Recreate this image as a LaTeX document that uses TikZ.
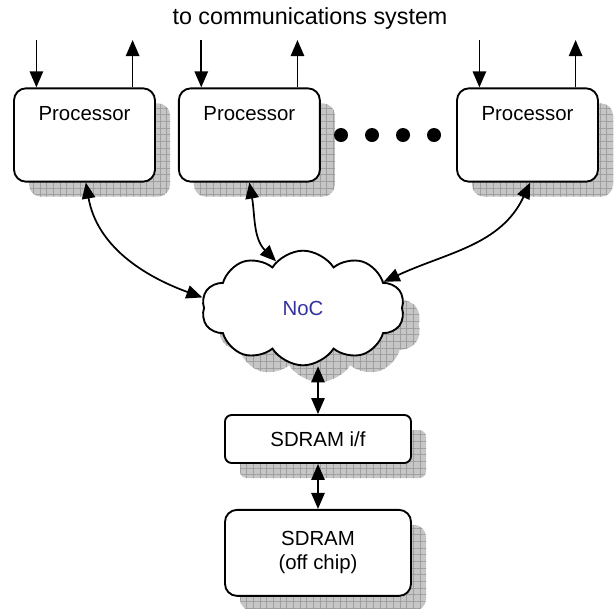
\documentclass[tikz,border=0pt]{standalone}
\usepackage{fontspec}
\setmainfont{Liberation Sans}
\usetikzlibrary{positioning,arrows.meta,shapes.symbols,shadows,patterns.meta}
\definecolor{nocblue}{RGB}{51,51,160}

\begin{document}
\begin{tikzpicture}[
  x=0.75pt, y=-0.75pt,
  >={Triangle[length=12pt,width=10pt]},
  font=\fontsize{15.3}{18}\selectfont,
  hatch/.style={
    drop shadow={shadow xshift=#1, shadow yshift=-#1, opacity=1, fill=gray!45,
      postaction={pattern={Lines[distance=5pt,line width=.5pt]}, pattern color=gray!75},
      postaction={pattern={Lines[angle=90,distance=5pt,line width=.5pt]}, pattern color=gray!75}}
  },
  hatch/.default=11.25pt,
  proc/.style={
    rectangle, draw, line width=1.4pt, rounded corners=9pt, fill=white, hatch,
    minimum width=105.75pt, inner sep=4pt, text height=20pt, text depth=42pt
  },
  mem/.style={
    rectangle, draw, line width=1.4pt, fill=white, hatch, align=center,
    minimum width=139.5pt
  },
  dot/.style={circle, fill=black, inner sep=0pt, minimum size=10.5pt},
  arrow/.style={<->, line width=1.3pt}
]
\useasboundingbox (0,0) rectangle (616,608);

\node (title) [font=\fontsize{17.5}{20}\selectfont] at (310,18) {to communications system};

% processors
\node (p1) [proc] at (84.5,135) {Processor};
\node (p2) [proc, right=16.5pt of p1] {Processor};
\node (p3) [proc] at (527.5,135) {Processor};

\foreach \i/\x in {1/341,2/372,3/403,4/434}
  \node (d\i) [dot] at (\x,135) {};

% links up to the comms system
\coordinate (top) at (0,40);
\foreach \p in {p1,p2,p3}{
  \coordinate (\p-in) at ([xshift=17.5pt]\p.north west);
  \coordinate (\p-out) at ([xshift=-17.5pt]\p.north east);
  \draw[->, line width=1.3pt] (\p-in |- top) -- (\p-in);
  \draw[->, line width=1.3pt] (\p-out) -- (\p-out |- top);
}

% network and memory
\node (noc) [cloud, draw, line width=1.4pt, fill=white, hatch=12.5pt,
  cloud puffs=10, cloud puff arc=115, aspect=1.8,
  minimum width=152pt, minimum height=86pt, text=nocblue] at (303,308) {NoC};

\node (sif) [mem, rounded corners=5pt, minimum height=36pt] at (318,439) {SDRAM i/f};
\node (ram) [mem, rounded corners=9pt, minimum height=64.5pt, below=33.75pt of sif]
  {SDRAM\\(off chip)};

\draw[arrow] ([xshift=1pt]p1.south) to[out=-80, in=160] (noc.174);
\draw[arrow] (p2.south) to[out=-80, in=135] (noc.120);
\draw[arrow] ([xshift=2pt]p3.south) to[out=-115, in=25] (noc.18);
\draw[arrow] (sif.north |- noc.south) -- (sif.north);
\draw[arrow] (sif) -- (ram);
\end{tikzpicture}
\end{document}
